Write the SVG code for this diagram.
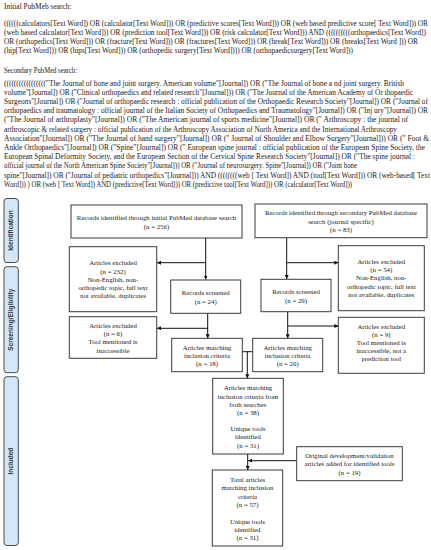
<svg xmlns="http://www.w3.org/2000/svg" width="431" height="550" viewBox="0 0 431 550">
<defs>
<style>
.q{font-family:"Liberation Serif","Times New Roman",serif;font-size:7.2px;fill:#1a1a1a}
.t{font-family:"Liberation Serif","Times New Roman",serif;font-size:6.8px;fill:#1a1a1a;text-anchor:middle}
.bx{fill:#fff;stroke:#3a3a3a;stroke-width:1}
.bar{fill:#d2e8f9;stroke:#4a4a4a;stroke-width:1}
.bt{font-family:"Liberation Sans",Arial,sans-serif;font-size:6.5px;font-weight:bold;fill:#333;text-anchor:middle}
.ln{fill:none;stroke:#111;stroke-width:1}
</style>
<marker id="ah" viewBox="0 0 8 8" refX="8" refY="4" markerWidth="4" markerHeight="4" orient="auto" markerUnits="userSpaceOnUse"><path d="M0,0 L8,4 L0,8 z" fill="#111"/></marker>
</defs>
<rect width="431" height="550" fill="#fff"/>
<g id="search-text">
<text class="q" x="4" y="8.5" textLength="67.5" lengthAdjust="spacingAndGlyphs">Initial PubMeb search:</text>
<text class="q" x="4" y="26.3" textLength="424" lengthAdjust="spacingAndGlyphs">((((((calculators[Text Word]) OR (calculator[Text Word])) OR (predictive scores[Text Word])) OR (web based predictive score[ Text Word])) OR</text>
<text class="q" x="4" y="35.3" textLength="422" lengthAdjust="spacingAndGlyphs">(web based calculator[Text Word])) OR (prediction tool[Text Word])) OR (risk calculator[Text Word])) AND ((((((((((orthopaedics[Text Word])</text>
<text class="q" x="4" y="44.2" textLength="414" lengthAdjust="spacingAndGlyphs">OR (orthopedics[Text Word])) OR (fracture[Text Word])) OR (fractures[Text Word])) OR (break[Text Word])) OR (breaks[Text Word ])) OR</text>
<text class="q" x="4" y="53.2" textLength="349" lengthAdjust="spacingAndGlyphs">(hip[Text Word])) OR (hips[Text Word])) OR (orthopedic surgery[Text Word]))) OR (orthopaedicsurgery[Text Word]))</text>
<text class="q" x="4" y="73" textLength="73" lengthAdjust="spacingAndGlyphs">Secondary PubMed search:</text>
<text class="q" x="4" y="85.5" textLength="400" lengthAdjust="spacingAndGlyphs">((((((((((((((((("The  Journal of bone and joint surgery. American volume"[Journal]) OR ("The Journal of bone a nd joint surgery. British</text>
<text class="q" x="4" y="94.7" textLength="409" lengthAdjust="spacingAndGlyphs">volume"[Journal]) OR ("Clinical orthopaedics and related research"[Journal])) OR ("The Journal of the American Academy of Or thopaedic</text>
<text class="q" x="4" y="103.9" textLength="424" lengthAdjust="spacingAndGlyphs">Surgeons"[Journal]) OR ("Journal of orthopaedic research : official publication of the Orthopaedic Research Society"[Journal]) OR ("Journal of</text>
<text class="q" x="4" y="113.1" textLength="424" lengthAdjust="spacingAndGlyphs">orthopaedics and traumatology : official journal of the Italian Society of Orthopaedics and Traumatology"[Journal]) OR ("Inj ury"[Journal]) OR</text>
<text class="q" x="4" y="122.3" textLength="404" lengthAdjust="spacingAndGlyphs">("The Journal of arthroplasty"[Journal]) OR ("The American journal of sports medicine"[Journal]) OR (" Arthroscopy : the journal of</text>
<text class="q" x="4" y="131.5" textLength="393" lengthAdjust="spacingAndGlyphs">arthroscopic &amp; related surgery : official publication of the Arthroscopy Association of North America and the International  Arthroscopy</text>
<text class="q" x="4" y="140.7" textLength="425" lengthAdjust="spacingAndGlyphs">Association"[Journal]) OR ("The Journal of hand surgery"[Journal]) OR (" Journal of Shoulder and Elbow Surgery"[Journal])) OR (" Foot &amp;</text>
<text class="q" x="4" y="149.9" textLength="421" lengthAdjust="spacingAndGlyphs">Ankle Orthopaedics"[Journal]) OR ("Spine"[Journal]) OR (" European spine journal : official publication of the European Spine Society, the</text>
<text class="q" x="4" y="159.1" textLength="411" lengthAdjust="spacingAndGlyphs">European Spinal Deformity Society, and the European Section of the Cervical Spine Research Society"[Journal]) OR ("The spine journal :</text>
<text class="q" x="4" y="168.3" textLength="353" lengthAdjust="spacingAndGlyphs">official journal of the North American Spine Society"[Journal])) OR ("Journal of neurosurgery. Spine"[Journal]) OR ("Joint bone</text>
<text class="q" x="4" y="177.5" textLength="426" lengthAdjust="spacingAndGlyphs">spine"[Journal]) OR ("Journal of pediatric orthopedics"[Journal])) AND ((((((((web [ Text Word]) AND (tool[Text Word])) OR (web-based[ Text</text>
<text class="q" x="4" y="186.7" textLength="348" lengthAdjust="spacingAndGlyphs">Word])) ) OR (web [ Text Word]) AND (predictive[Text Word])) OR (predictive tool[Text Word])) OR (calculator[Text Word]))</text>
</g>
<g id="phase-identification">
<rect class="bar" x="4" y="198.5" width="14.3" height="64" rx="3"/>
<text class="bt" transform="translate(13.4,230.5) rotate(-90)">Identification</text>
</g>
<g id="phase-screening">
<rect class="bar" x="4" y="266.7" width="14.3" height="106" rx="3"/>
<text class="bt" transform="translate(13.4,319.7) rotate(-90)">Screening/Eligibility</text>
</g>
<g id="phase-included">
<rect class="bar" x="4" y="376.7" width="14.3" height="168.8" rx="3"/>
<text class="bt" transform="translate(13.4,461.1) rotate(-90)">Included</text>
</g>
<g id="connectors">
<path class="ln" d="M205.7,238 V279.5" marker-end="url(#ah)"/>
<path class="ln" d="M205.7,262.7 H157" marker-end="url(#ah)"/>
<path class="ln" d="M286.7,237.7 V279" marker-end="url(#ah)"/>
<path class="ln" d="M286.7,262.7 H338.3" marker-end="url(#ah)"/>
<path class="ln" d="M207.7,313.3 V338.3" marker-end="url(#ah)"/>
<path class="ln" d="M207.7,328.3 H157" marker-end="url(#ah)"/>
<path class="ln" d="M287.7,311.7 V338.3" marker-end="url(#ah)"/>
<path class="ln" d="M287.7,326 H338.3" marker-end="url(#ah)"/>
<path class="ln" d="M242.3,351.7 H252.7"/>
<path class="ln" d="M247.3,351.7 V378.3" marker-end="url(#ah)"/>
<path class="ln" d="M247.7,454 V470" marker-end="url(#ah)"/>
<path class="ln" d="M296.7,460.7 H248.2" marker-end="url(#ah)"/>
</g>
<g id="box-initial">
<rect class="bx" x="71" y="205" width="171" height="33"/>
<text class="t" x="156.5" y="220.3">Records identified through initial PubMed database search</text>
<text class="t" x="156.5" y="228.7">(n = 256)</text>
</g>
<g id="box-secondary">
<rect class="bx" x="255" y="204" width="172" height="33.7"/>
<text class="t" x="341" y="214.7">Records identified through secondary PubMed database</text>
<text class="t" x="341" y="223.7">search (journal specific)</text>
<text class="t" x="341" y="232">(n = 83)</text>
</g>
<g id="box-excluded-232">
<rect class="bx" x="69.3" y="246.7" width="87.4" height="65"/>
<text class="t" x="113" y="265.3">Articles excluded</text>
<text class="t" x="113" y="273.7">(n = 232)</text>
<text class="t" x="113" y="282">Non-English, non-</text>
<text class="t" x="113" y="290.1">orthopedic topic, full text</text>
<text class="t" x="113" y="298.2">not available, duplicates</text>
</g>
<g id="box-screened-24">
<rect class="bx" x="170.7" y="280" width="70" height="33.3"/>
<text class="t" x="205.7" y="295.3">Records screened</text>
<text class="t" x="205.7" y="304">(n = 24)</text>
</g>
<g id="box-screened-29">
<rect class="bx" x="261" y="279.3" width="70" height="32.4"/>
<text class="t" x="296" y="294.3">Records screened</text>
<text class="t" x="296" y="303">(n = 29)</text>
</g>
<g id="box-excluded-54">
<rect class="bx" x="338.3" y="245.7" width="86" height="65"/>
<text class="t" x="381.3" y="263.7">Articles excluded</text>
<text class="t" x="381.3" y="272">(n = 54)</text>
<text class="t" x="381.3" y="280.3">Non-English, non-</text>
<text class="t" x="381.3" y="288.6">orthopedic topic, full text</text>
<text class="t" x="381.3" y="296.9">not available, duplicates</text>
</g>
<g id="box-excluded-6">
<rect class="bx" x="69.3" y="316.7" width="87.4" height="41.6"/>
<text class="t" x="113" y="328">Articles excluded</text>
<text class="t" x="113" y="336.3">(n = 6)</text>
<text class="t" x="113" y="344.4">Tool mentioned is</text>
<text class="t" x="113" y="352.7">inaccessible</text>
</g>
<g id="box-matching-18">
<rect class="bx" x="171.7" y="338.3" width="70.6" height="33.4"/>
<text class="t" x="207" y="350.3">Articles matching</text>
<text class="t" x="207" y="358.2">inclusion criteria</text>
<text class="t" x="207" y="366.2">(n = 18)</text>
</g>
<g id="box-matching-20">
<rect class="bx" x="252.7" y="338.3" width="70" height="33.4"/>
<text class="t" x="287.7" y="350.3">Articles matching</text>
<text class="t" x="287.7" y="358.2">inclusion criteria</text>
<text class="t" x="287.7" y="366.2">(n = 20)</text>
</g>
<g id="box-excluded-9">
<rect class="bx" x="338.3" y="317.3" width="86" height="56"/>
<text class="t" x="381.3" y="328.7">Articles excluded</text>
<text class="t" x="381.3" y="337">(n = 9)</text>
<text class="t" x="381.3" y="344.8">Tool mentioned is</text>
<text class="t" x="381.3" y="352.8">inaccessible, not a</text>
<text class="t" x="381.3" y="361">prediction tool</text>
</g>
<g id="box-both-searches">
<rect class="bx" x="212.7" y="378.3" width="70.6" height="75.7"/>
<text class="t" x="248" y="390.3">Articles matching</text>
<text class="t" x="248" y="398.7">inclusion criteria from</text>
<text class="t" x="248" y="407">both searches</text>
<text class="t" x="248" y="414.9">(n = 38)</text>
<text class="t" x="248" y="431.1">Unique tools</text>
<text class="t" x="248" y="439.4">identified</text>
<text class="t" x="248" y="447.7">(n = 31)</text>
</g>
<g id="box-original-articles">
<rect class="bx" x="296.7" y="446.7" width="105.6" height="34"/>
<text class="t" x="349.5" y="458">Original development/validation</text>
<text class="t" x="349.5" y="466.3">articles added for identified tools</text>
<text class="t" x="349.5" y="474.7">(n = 19)</text>
</g>
<g id="box-total">
<rect class="bx" x="212.3" y="470" width="70.4" height="76"/>
<text class="t" x="247.5" y="482">Total articles</text>
<text class="t" x="247.5" y="490.3">matching inclusion</text>
<text class="t" x="247.5" y="498.7">criteria</text>
<text class="t" x="247.5" y="507">(n = 57)</text>
<text class="t" x="247.5" y="523.7">Unique tools</text>
<text class="t" x="247.5" y="532">identified</text>
<text class="t" x="247.5" y="539.8">(n = 31)</text>
</g>
</svg>
